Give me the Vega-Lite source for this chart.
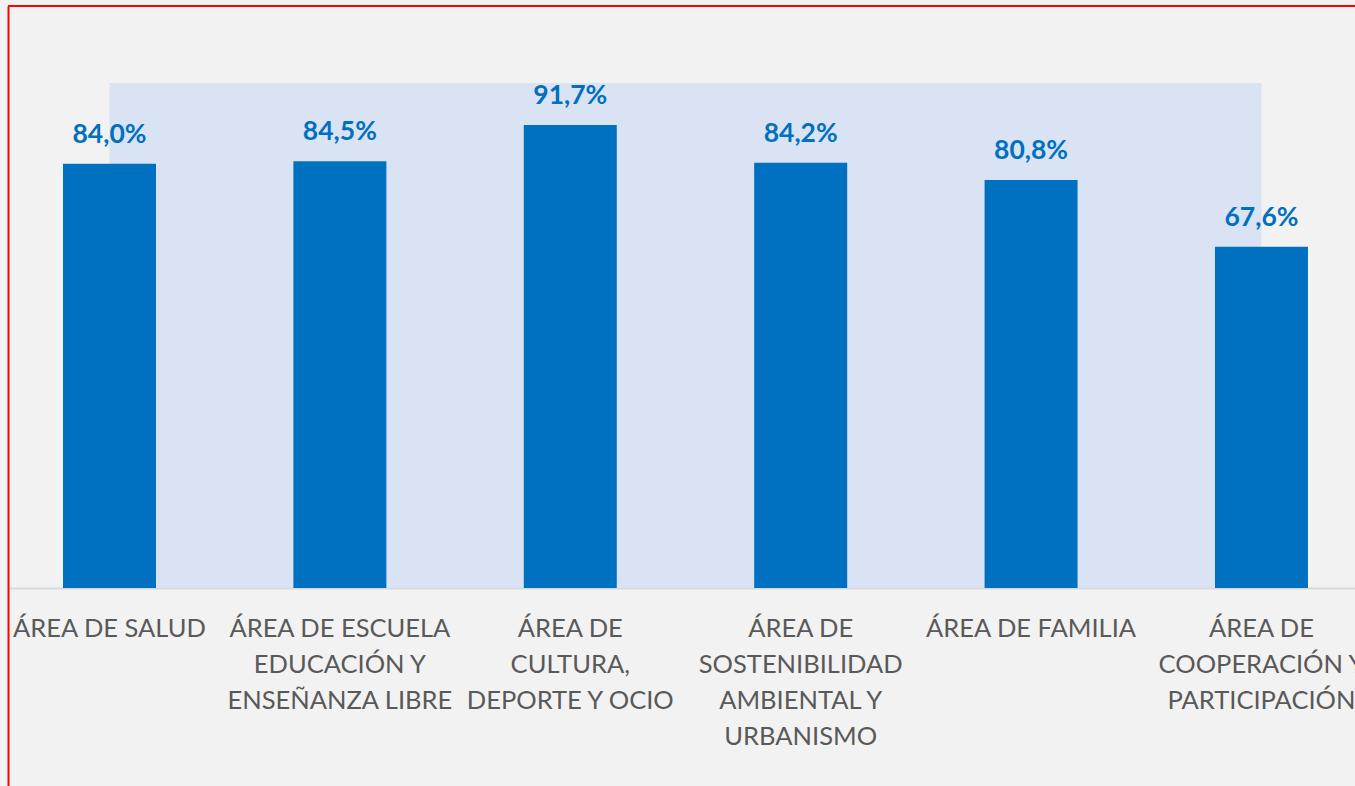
{
  "$schema": "https://vega.github.io/schema/vega-lite/v6.json",
  "autosize": {"type": "none"},
  "padding": {"left": 8, "top": 6, "right": 0, "bottom": 0},
  "width": 1347,
  "height": 780,
  "background": "#f2f2f2",
  "config": {
    "view": {"stroke": null},
    "locale": {"number": {"decimal": ",", "thousands": ".", "grouping": [3], "currency": ["", " €"]}}
  },
  "data": {
    "values": [
      {"area": "ÁREA DE SALUD", "value": 0.840},
      {"area": "ÁREA DE ESCUELA\nEDUCACIÓN Y\nENSEÑANZA LIBRE", "value": 0.845},
      {"area": "ÁREA DE\nCULTURA,\nDEPORTE Y OCIO", "value": 0.917},
      {"area": "ÁREA DE\nSOSTENIBILIDAD\nAMBIENTAL Y\nURBANISMO", "value": 0.842},
      {"area": "ÁREA DE FAMILIA", "value": 0.808},
      {"area": "ÁREA DE\nCOOPERACIÓN Y\nPARTICIPACIÓN", "value": 0.676}
    ]
  },
  "encoding": {
    "x": {
      "field": "area", "type": "nominal", "sort": null, "title": null,
      "scale": {"paddingInner": 0.5964, "paddingOuter": 0.2214, "align": 0.539},
      "axis": {
        "orient": "bottom", "offset": -198, "labelAngle": 0,
        "labelExpr": "split(datum.label, '\\n')",
        "labelFont": "Lato", "labelFontSize": 25.5, "labelColor": "#595959",
        "labelLineHeight": 36, "labelBaseline": "alphabetic", "labelPadding": 48,
        "labelLimit": 0, "labelOverlap": false, "labelFlush": false,
        "ticks": false, "domainColor": "#d9d9d9", "domainWidth": 2, "grid": false
      }
    }
  },
  "layer": [
    {
      "mark": {"type": "area", "color": "#dae3f3"},
      "encoding": {
        "y": {"datum": 1.0, "type": "quantitative", "scale": {"domain": [-0.3921, 1.1525], "nice": false, "zero": false},
              "axis": {"orient": "left", "labels": false, "ticks": false, "grid": false, "title": null, "domainColor": "#ff0000", "domainWidth": 2}},
        "y2": {"datum": 0}
      }
    },
    {
      "mark": {"type": "bar", "color": "#0070c0"},
      "encoding": {
        "y": {"field": "value", "type": "quantitative"},
        "y2": {"datum": 0}
      }
    },
    {
      "mark": {"type": "text", "font": "Lato", "fontSize": 26.5, "fontWeight": "bold", "color": "#0070c0", "baseline": "alphabetic", "dy": -21},
      "encoding": {
        "y": {"field": "value", "type": "quantitative"},
        "text": {"field": "value", "type": "quantitative", "format": ".1%"}
      }
    },
    {
      "mark": {"type": "rule", "color": "#ff0000", "strokeWidth": 2},
      "encoding": {
        "y": {"datum": 1.1525},
        "x": null
      }
    }
  ]
}
